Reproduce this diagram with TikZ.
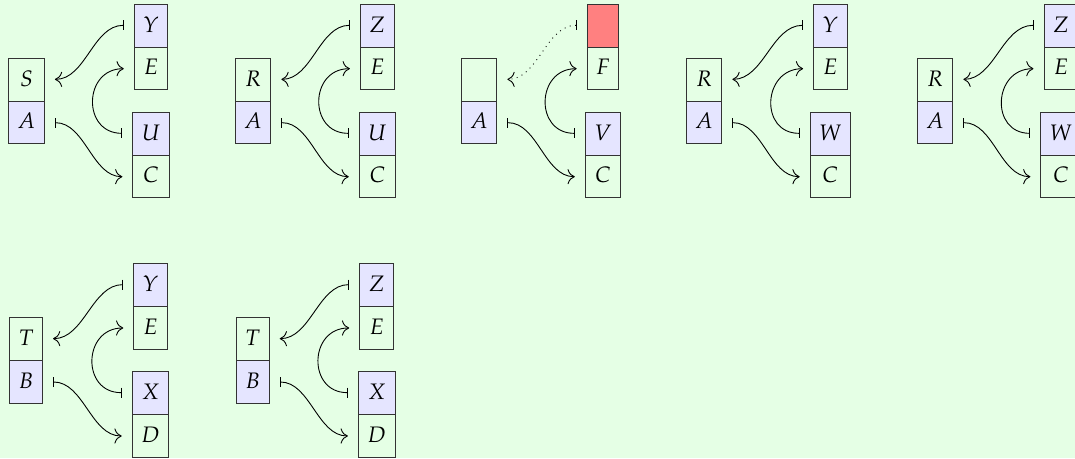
\documentclass[tikz,border=0pt]{standalone}
\usepackage{mathpazo}
\usepackage{xcolor}
\usepackage{tikz}
\usetikzlibrary{calc}
\usetikzlibrary{arrows.meta}
\usetikzlibrary{shapes.multipart}

\definecolor{bgcol}{rgb}{0.9,1,0.9}
\definecolor{lavcol}{rgb}{0.9,0.9,1}
\newcommand{\cellstrut}{\rule[-6.5pt]{0pt}{18.75pt}}

\begin{document}
\begin{tikzpicture}[x=0.4464pt, y=-0.4464pt,
    cellbox/.style 2 args={rectangle split, rectangle split parts=2, draw=black!80,
        inner xsep=4pt, inner ysep=0pt, rectangle split part fill={#1,#2}},
    link/.style={{Bar[width=4.5pt]}-{Computer Modern Rightarrow[scale=1.3]},
        shorten <=4.5pt, shorten >=4.5pt}
]
    \useasboundingbox (0,0) rectangle (1075,458);
    \fill[bgcol] (0,0) rectangle (1075,458);

    % Boxes and links, one group per entry
    \foreach \g/\lx/\rx/\cy/\ltop/\lbot/\ptop/\pbot/\qtop/\qbot/\pfill/\lstyle in {
        1/26.5/151/101/S/A/Y/E/U/C/lavcol/solid,
        2/253/377.4/101/R/A/Z/E/U/C/lavcol/solid,
        3/479/603/101//A//F/V/C/red!50/dotted,
        4/704/830.3/101/R/A/Y/E/W/C/lavcol/solid,
        5/935/1061/101/R/A/Z/E/W/C/lavcol/solid,
        6/26/150.5/360.3/T/B/Y/E/X/D/lavcol/solid,
        7/252.7/376.7/360.3/T/B/Z/E/X/D/lavcol/solid}{
        \node[cellbox={bgcol}{lavcol}] (L\g) at (\lx,\cy)
            {\cellstrut$\ltop$\nodepart{two}\cellstrut$\lbot$};
        \node[cellbox={\pfill}{bgcol}] (P\g) at (\rx,\cy-54)
            {\cellstrut$\ptop$\nodepart{two}\cellstrut$\pbot$};
        \node[cellbox={lavcol}{bgcol}] (Q\g) at (\rx,\cy+54)
            {\cellstrut$\qtop$\nodepart{two}\cellstrut$\qbot$};

        \coordinate (Lt\g) at ($(L\g.north east)!.5!(L\g.text split east)$);
        \coordinate (Lb\g) at ($(L\g.text split east)!.5!(L\g.south east)$);
        \coordinate (Pt\g) at ($(P\g.north west)!.5!(P\g.text split west)$);
        \coordinate (Pb\g) at ($(P\g.text split west)!.5!(P\g.south west)$);
        \coordinate (Qt\g) at ($(Q\g.north west)!.5!(Q\g.text split west)$);
        \coordinate (Qb\g) at ($(Q\g.text split west)!.5!(Q\g.south west)$);

        \draw[link, \lstyle] (Pt\g) to[out=180, in=0] (Lt\g);
        \draw[link] (Lb\g) to[out=0, in=180] (Qb\g);
        \draw[link] (Qt\g) to[out=180, in=180, looseness=2] (Pb\g);
    }
\end{tikzpicture}
\end{document}
